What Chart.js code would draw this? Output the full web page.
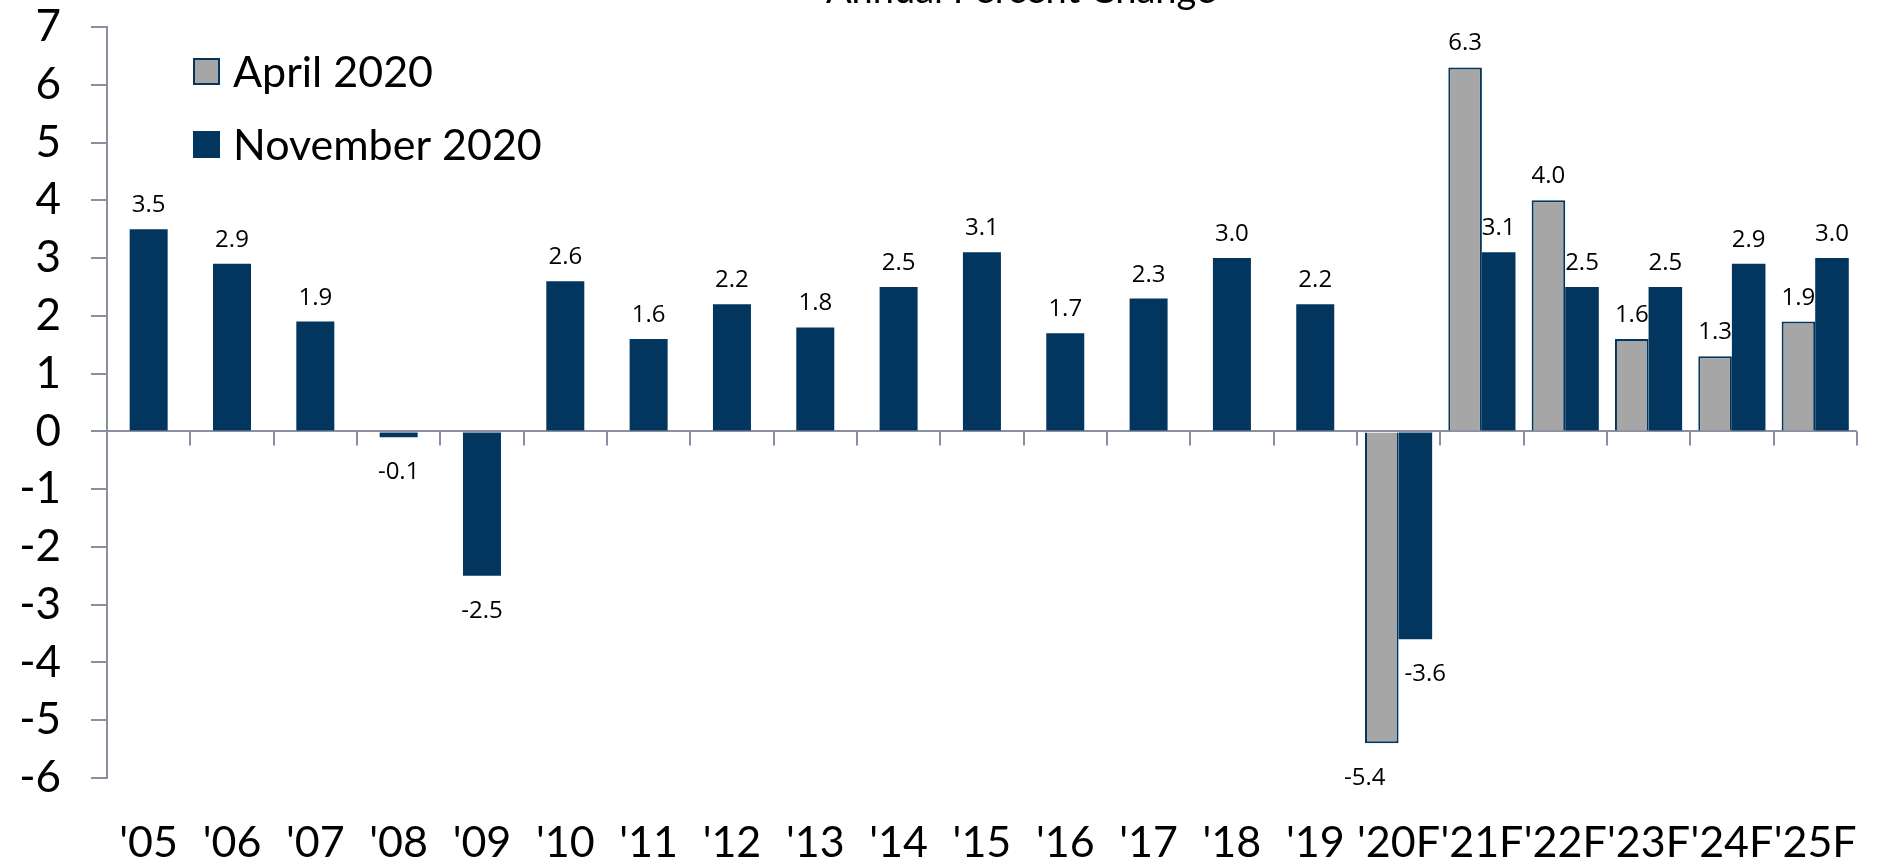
<!DOCTYPE html>
<html>
<head>
<meta charset="utf-8">
<script src="https://cdn.jsdelivr.net/npm/chart.js@4/dist/chart.umd.min.js"></script>
<style>
  html, body { margin: 0; padding: 0; background: #ffffff; }
  #wrap { width: 1893px; height: 862px; }
</style>
</head>
<body>
<div id="wrap"><canvas id="gdpChart" width="1893" height="862"></canvas></div>
<script>
// values
const years = ["'05", "'06", "'07", "'08", "'09", "'10", "'11", "'12", "'13", "'14", "'15",
               "'16", "'17", "'18", "'19", "'20F", "'21F", "'22F", "'23F", "'24F", "'25F"];
const april2020 = [null, null, null, null, null, null, null, null, null, null, null,
                   null, null, null, null, -5.4, 6.3, 4.0, 1.6, 1.3, 1.9];
const november2020 = [3.5, 2.9, 1.9, -0.1, -2.5, 2.6, 1.6, 2.2, 1.8, 2.5, 3.1,
                      1.7, 2.3, 3.0, 2.2, -3.6, 3.1, 2.5, 2.5, 2.9, 3.0];
const yMin = -6;
const yMax = 7;
const yStep = 1;
const chartTitle = 'Annual Percent Change';

const navy = '#02365f';
const grey = '#a6a6a6';
const axisGrey = '#8a90a0';

Chart.defaults.font.family = 'Lato, sans-serif';
Chart.defaults.color = '#000000';

// numbers above / below each bar
const valueLabels = {
    id: 'valueLabels',
    afterDatasetsDraw(chart) {
        const ctx = chart.ctx;
        const sets = chart.data.datasets;
        ctx.save();
        ctx.font = '24px "Open Sans"';
        ctx.fillStyle = '#000000';
        ctx.textAlign = 'center';
        ctx.textBaseline = 'alphabetic';
        sets.forEach((ds, i) => {
            const meta = chart.getDatasetMeta(i);
            meta.data.forEach((bar, j) => {
                const v = ds.data[j];
                if (v === null || v === undefined) return;
                // two negative bars side by side: push labels apart
                let dx = 0;
                if (sets[0].data[j] < 0 && sets[1].data[j] < 0) dx = i === 0 ? -17 : 10;
                const y = v >= 0 ? bar.y - 17 : bar.y + 42;
                ctx.fillText(v.toFixed(1), bar.x + dx, y);
            });
        });
        ctx.restore();
    }
};

// small marks under the zero line between categories
const categoryMarks = {
    id: 'categoryMarks',
    afterDatasetsDraw(chart) {
        const { ctx, scales } = chart;
        const x = scales.x;
        const y0 = scales.y.getPixelForValue(0);
        ctx.save();
        ctx.strokeStyle = axisGrey;
        ctx.lineWidth = 2;
        ctx.beginPath();
        for (let i = 1; i <= years.length; i++) {
            const px = Math.round(x.getPixelForValue(i - 0.5));
            ctx.moveTo(px, y0);
            ctx.lineTo(px, y0 + 14);
        }
        ctx.stroke();
        ctx.restore();
    }
};

// legend sits inside the plot, top left
const boxLegend = {
    id: 'boxLegend',
    afterDraw(chart) {
        const { ctx, chartArea } = chart;
        ctx.save();
        ctx.font = '43px Lato';
        ctx.textBaseline = 'middle';
        ctx.textAlign = 'left';
        chart.data.datasets.forEach((ds, i) => {
            const x = chartArea.left + 86;
            const y = chartArea.top + 31 + i * 73;
            ctx.fillStyle = ds.backgroundColor;
            ctx.fillRect(x, y, 27, 27);
            if (ds.borderWidth) {
                ctx.strokeStyle = ds.borderColor;
                ctx.lineWidth = 2;
                ctx.strokeRect(x + 1, y + 1, 25, 25);
            }
            ctx.fillStyle = '#000000';
            ctx.fillText(ds.label, x + 40, y + 15);
        });
        ctx.restore();
    }
};

// title is cut off by the top edge in the original
const cutTitle = {
    id: 'cutTitle',
    afterDraw(chart) {
        const ctx = chart.ctx;
        ctx.save();
        ctx.font = '38px Lato';
        ctx.fillStyle = '#000000';
        ctx.textAlign = 'center';
        ctx.textBaseline = 'alphabetic';
        ctx.fillText(chartTitle, 1021, 3);
        ctx.restore();
    }
};

new Chart(document.getElementById('gdpChart'), {
    type: 'bar',
    data: {
        labels: years,
        datasets: [{
            label: 'April 2020',
            data: april2020,
            backgroundColor: grey,
            borderColor: navy,
            borderWidth: 2,
            xAxisID: 'x',
            yAxisID: 'y'
        }, {
            label: 'November 2020',
            data: november2020,
            backgroundColor: navy,
            borderWidth: 0,
            xAxisID: 'x',
            yAxisID: 'y'
        }]
    },
    options: {
        responsive: false,
        animation: false,
        skipNull: true,
        categoryPercentage: 0.806,
        barPercentage: 1,
        maxBarThickness: 38,
        layout: { padding: { top: 0, right: 13, bottom: 0, left: 0 } },
        plugins: {
            legend: { display: false },
            title: { display: false },
            tooltip: { enabled: false }
        },
        scales: {
            x: {
                position: 'bottom',
                grid: { display: false },
                border: { display: false },
                ticks: {
                    autoSkip: false,
                    maxRotation: 0,
                    minRotation: 0,
                    padding: 36,
                    font: { size: 43, lineHeight: 1 }
                },
                afterFit(scale) { scale.height = 84; }
            },
            y: {
                min: yMin,
                max: yMax,
                border: { display: true, color: axisGrey, width: 2 },
                grid: {
                    color: (c) => (c.tick && c.tick.value === 0 ? axisGrey : 'rgba(0,0,0,0)'),
                    lineWidth: 2,
                    tickLength: 16,
                    tickColor: axisGrey,
                    tickWidth: 2
                },
                ticks: {
                    stepSize: yStep,
                    autoSkip: false,
                    padding: 30,
                    font: { size: 44 }
                },
                afterFit(scale) {
                    scale.width = 107;
                    scale.paddingTop = 27;
                    scale.paddingBottom = 0;
                }
            }
        }
    },
    plugins: [valueLabels, categoryMarks, boxLegend, cutTitle]
});
</script>
</body>
</html>
